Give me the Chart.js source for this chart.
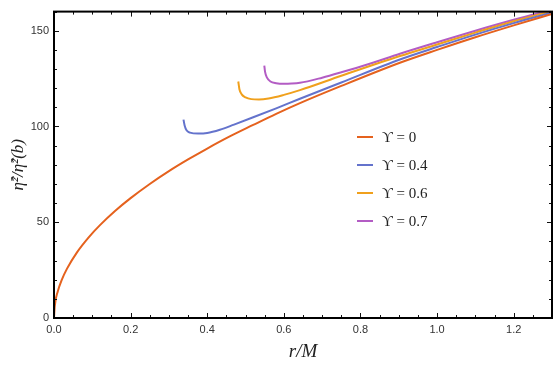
<!DOCTYPE html>
<html>
<head>
<meta charset="utf-8">
<script src="https://cdn.jsdelivr.net/npm/chart.js@4"></script>
<style>
  html, body { margin: 0; padding: 0; background: #fff; }
  #wrap { width: 556px; height: 371px; }
</style>
</head>
<body>
<div id="wrap"><canvas id="c"></canvas></div>
<script>
/* ── data ───────────────────────────────────────────────── */
const xTicks = [0, 0.2, 0.4, 0.6, 0.8, 1.0, 1.2];
const yTicks = [0, 50, 100, 150];

const legendLabels = ['ϒ = 0', 'ϒ = 0.4', 'ϒ = 0.6', 'ϒ = 0.7'];
const colors       = ['#e5621e', '#6473cc', '#f0a01c', '#b35cc4'];

// ϒ = 0
const r0   = [0, 0.002, 0.01, 0.02, 0.034, 0.06, 0.09, 0.12, 0.16, 0.2, 0.25, 0.3, 0.35, 0.4, 0.45, 0.52, 0.58, 0.642, 0.75, 0.903, 1.0, 1.1, 1.2, 1.3];
const eta0 = [0, 6.2, 14, 19.8, 25.8, 34.3, 42, 48.5, 56, 62.6, 70, 76.7, 82.8, 88.5, 93.9, 100.8, 106.6, 112.2, 121.2, 133.3, 140, 146.6, 152.8, 158.8];

// ϒ = 0.4
const r04   = [0.338, 0.341, 0.346, 0.355, 0.376, 0.40, 0.433, 0.47, 0.52, 0.58, 0.642, 0.75, 0.903, 1.0, 1.1, 1.2, 1.3];
const eta04 = [103.6, 100.5, 98, 96.8, 96.3, 96.6, 98.3, 101, 104.8, 109.5, 114.5, 123, 135, 141.5, 148, 154, 159.5];

// ϒ = 0.6
const r06   = [0.481, 0.484, 0.49, 0.50, 0.515, 0.535, 0.56, 0.6, 0.642, 0.75, 0.903, 1.0, 1.1, 1.2, 1.3];
const eta06 = [123.5, 119.5, 116.8, 115.2, 114.3, 114.1, 114.6, 116.5, 119, 126.5, 136.8, 142.8, 149, 155, 160.3];

// ϒ = 0.7
const r07   = [0.549, 0.551, 0.556, 0.565, 0.58, 0.60, 0.62, 0.642, 0.7, 0.75, 0.82, 0.903, 1.0, 1.1, 1.2, 1.3];
const eta07 = [131.8, 128.5, 125.5, 123.5, 122.6, 122.3, 122.4, 122.8, 125.5, 128.3, 132.5, 138, 144, 150, 155.7, 161];

/* ── helpers ────────────────────────────────────────────── */
const pts = (xs, ys) => xs.map((x, i) => ({ x, y: ys[i] }));
const series = [[r0, eta0], [r04, eta04], [r06, eta06], [r07, eta07]];

const SERIF = "'Liberation Serif', 'DejaVu Serif', serif";
const SANS  = "'Liberation Sans', Arial, sans-serif";

/* frame + inward ticks on all four sides */
const framePlugin = {
  id: 'frame',
  afterDatasetsDraw(chart) {
    const { ctx, chartArea: a, scales: { x, y } } = chart;
    ctx.save();
    ctx.strokeStyle = '#111';
    ctx.lineWidth = 1;
    ctx.beginPath();
    for (let v = 0; v <= 1.3001; v += 0.05) {
      const px = Math.round(x.getPixelForValue(v)) + 0.5;
      const major = Math.abs(v / 0.2 - Math.round(v / 0.2)) < 1e-6;
      const len = major ? 5 : 3;
      ctx.moveTo(px, a.bottom); ctx.lineTo(px, a.bottom - len);
      ctx.moveTo(px, a.top);    ctx.lineTo(px, a.top + len);
    }
    for (let v = 0; v <= 160; v += 10) {
      const py = Math.round(y.getPixelForValue(v)) + 0.5;
      const len = v % 50 === 0 ? 5 : 3;
      ctx.moveTo(a.left, py);  ctx.lineTo(a.left + len, py);
      ctx.moveTo(a.right, py); ctx.lineTo(a.right - len, py);
    }
    ctx.stroke();
    ctx.lineWidth = 2;
    ctx.strokeStyle = '#000';
    ctx.strokeRect(a.left, a.top, a.right - a.left, a.bottom - a.top);
    ctx.restore();
  }
};

/* legend inside the plot, Mathematica style */
const legendPlugin = {
  id: 'innerLegend',
  afterDraw(chart) {
    const { ctx } = chart;
    ctx.save();
    ctx.font = '15px ' + SERIF;
    ctx.textBaseline = 'middle';
    chart.data.datasets.forEach((ds, i) => {
      const yy = 137 + i * 28;
      ctx.strokeStyle = ds.borderColor;
      ctx.lineWidth = 2;
      ctx.beginPath();
      ctx.moveTo(357, yy); ctx.lineTo(373, yy);
      ctx.stroke();
      ctx.fillStyle = '#222';
      ctx.fillText(ds.label, 382, yy + 1);
    });
    ctx.restore();
  }
};

new Chart(document.getElementById('c'), {
  type: 'line',
  data: {
    datasets: series.map(([xs, ys], i) => ({
      label: legendLabels[i],
      data: pts(xs, ys),
      borderColor: colors[i],
      borderWidth: 2,
      pointRadius: 0,
      fill: false,
      cubicInterpolationMode: 'monotone',
    }))
  },
  options: {
    responsive: true,
    maintainAspectRatio: false,
    animation: false,
    layout: { padding: { top: 10, right: 4, left: 0, bottom: 0 } },
    plugins: { legend: { display: false }, tooltip: { enabled: false } },
    scales: {
      x: {
        type: 'linear',
        min: 0, max: 1.3,
        afterBuildTicks: s => { s.ticks = xTicks.map(v => ({ value: v })); },
        afterFit: s => { s.height = 53; },
        grid: { display: false, drawTicks: false },
        border: { display: false },
        ticks: {
          padding: 5,
          color: '#333',
          font: { family: SANS, size: 11 },
          maxRotation: 0,
          callback: v => Number(v).toFixed(1)
        },
        title: {
          display: true,
          text: 'r/M',
          color: '#222',
          font: { family: SERIF, size: 19, style: 'italic' },
          padding: { top: 0, bottom: 8 }
        }
      },
      y: {
        type: 'linear',
        min: 0, max: 160,
        afterBuildTicks: s => { s.ticks = yTicks.map(v => ({ value: v })); },
        afterFit: s => { s.width = 54; },
        grid: { display: false, drawTicks: false },
        border: { display: false },
        ticks: {
          padding: 5,
          color: '#333',
          font: { family: SANS, size: 11 }
        },
        title: {
          display: true,
          text: 'η̂²/η̂²(b)',
          color: '#222',
          font: { family: SERIF, size: 17, style: 'italic' },
          padding: { top: 8, bottom: 0 }
        }
      }
    }
  },
  plugins: [framePlugin, legendPlugin]
});
</script>
</body>
</html>
